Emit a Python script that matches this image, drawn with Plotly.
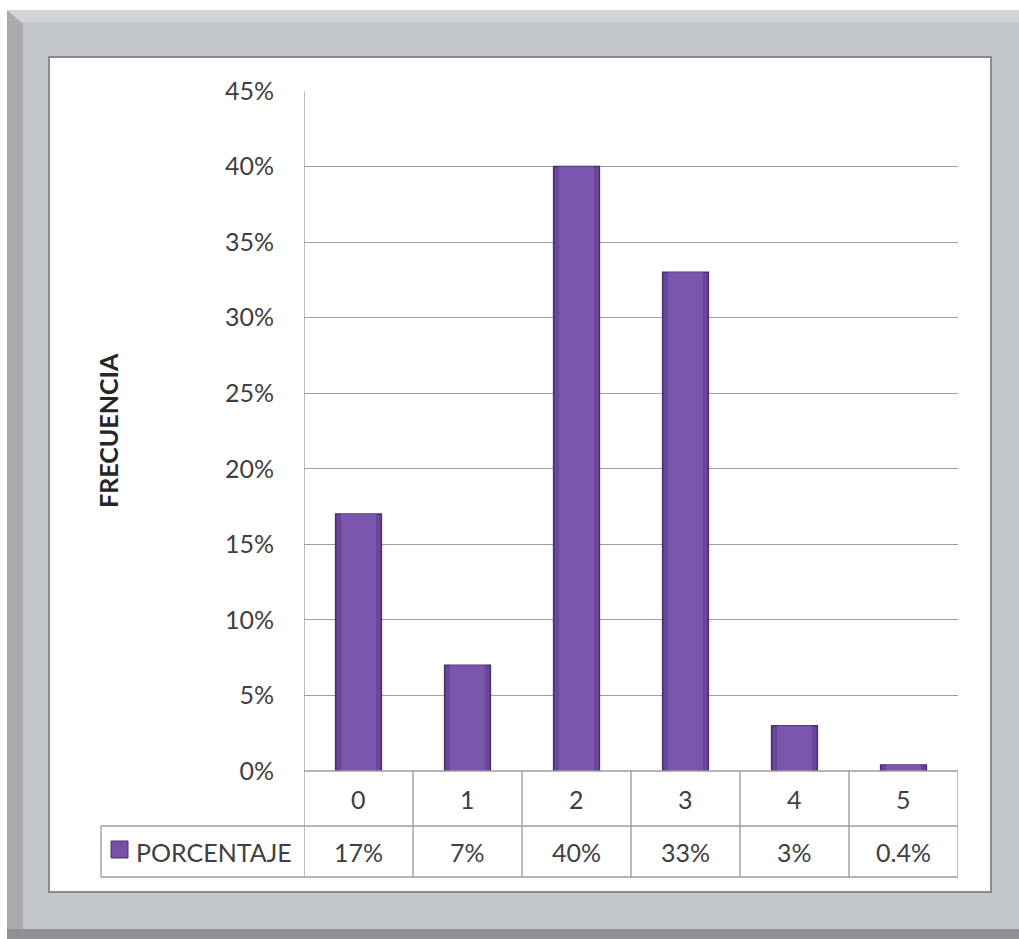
import plotly.graph_objects as go

# Data
categories = ["0", "1", "2", "3", "4", "5"]
porcentaje = [17, 7, 40, 33, 3, 0.4]
value_labels = ["17%", "7%", "40%", "33%", "3%", "0.4%"]
y_ticks = [0, 5, 10, 15, 20, 25, 30, 35, 40, 45]
y_tick_text = [f"{t}%" for t in y_ticks]
series_name = "PORCENTAJE"
axis_title = "FRECUENCIA"

W, H = 1019, 939
FONT = "Lato"
TXT = "#404040"
GRID = "#9e9e9e"
BAR_FILL = "#7651a6"
BAR_EDGE = "#4a2e72"


def px(x):
    return x / W


def py(y):
    return 1 - y / H


x_idx = list(range(len(categories)))

fig = go.Figure()
fig.add_trace(go.Bar(
    x=x_idx, y=porcentaje, width=0.42, name=series_name,
    marker=dict(color="#6a4698", line=dict(color=BAR_EDGE, width=1.5)),
    showlegend=False, hoverinfo="skip",
))
# lighter core for a bevelled look
fig.add_trace(go.Bar(
    x=x_idx, y=porcentaje, width=0.32,
    marker=dict(color="#7b56ad", line=dict(width=0)),
    showlegend=False, hoverinfo="skip",
))

shapes = []
# outer frame
shapes.append(dict(type="rect", xref="paper", yref="paper", x0=px(7), x1=1, y0=0, y1=py(10),
                   fillcolor="#c4c7ca", line=dict(width=0), layer="below"))
shapes.append(dict(type="rect", xref="paper", yref="paper", x0=px(7), x1=1, y0=py(22), y1=py(10),
                   fillcolor="#d2d5d7", line=dict(width=0), layer="below"))
shapes.append(dict(type="path", xref="paper", yref="paper",
                   path=f"M {px(7)},{py(10)} L {px(23)},{py(24)} L {px(23)},{py(929)} L {px(7)},{py(939)} Z",
                   fillcolor="#a8aaad", line=dict(width=0), layer="below"))
shapes.append(dict(type="rect", xref="paper", yref="paper", x0=px(7), x1=1, y0=0, y1=py(929),
                   fillcolor="#8f9194", line=dict(width=0), layer="below"))
# white chart panel
shapes.append(dict(type="rect", xref="paper", yref="paper", x0=px(49), x1=px(991), y0=py(892), y1=py(57),
                   fillcolor="white", line=dict(color="#8a8a8a", width=2), layer="below"))

# data table grid
tl = dict(color=GRID, width=1.4)
n = len(categories)
shapes.append(dict(type="line", xref="x", yref="paper", x0=-0.5, x1=n - 0.5, y0=py(771), y1=py(771), line=tl))
shapes.append(dict(type="line", xref="paper", yref="paper", x0=px(101), x1=px(958), y0=py(826), y1=py(826), line=tl))
shapes.append(dict(type="line", xref="paper", yref="paper", x0=px(101), x1=px(958), y0=py(877), y1=py(877), line=tl))
shapes.append(dict(type="line", xref="paper", yref="paper", x0=px(101), x1=px(101), y0=py(826), y1=py(877), line=tl))
shapes.append(dict(type="line", xref="x", yref="paper", x0=-0.5, x1=-0.5, y0=py(91), y1=py(877), line=tl))
for i in range(n):
    shapes.append(dict(type="line", xref="x", yref="paper", x0=i + 0.5, x1=i + 0.5,
                       y0=py(771), y1=py(877), line=tl))
# legend key
shapes.append(dict(type="rect", xref="paper", yref="paper", x0=px(111), x1=px(128), y0=py(858), y1=py(841),
                   fillcolor=BAR_FILL, line=dict(color=BAR_EDGE, width=1)))

annotations = []
for i, c in enumerate(categories):
    annotations.append(dict(x=i, y=py(799), xref="x", yref="paper", text=c, showarrow=False,
                            font=dict(family=FONT, size=25, color=TXT), xanchor="center", yanchor="middle"))
    annotations.append(dict(x=i, y=py(852), xref="x", yref="paper", text=value_labels[i], showarrow=False,
                            font=dict(family=FONT, size=25, color=TXT), xanchor="center", yanchor="middle"))
annotations.append(dict(x=px(134), y=py(852), xref="paper", yref="paper", text=series_name, showarrow=False,
                        font=dict(family=FONT, size=25, color=TXT), xanchor="left", yanchor="middle"))
annotations.append(dict(x=px(108), y=py(431), xref="paper", yref="paper", text=f"<b>{axis_title}</b>",
                        showarrow=False, textangle=-90,
                        font=dict(family=FONT, size=25, color="#262626"), xanchor="center", yanchor="middle"))

fig.update_layout(
    width=W, height=H, autosize=False,
    margin=dict(l=0, r=0, t=0, b=0, pad=0),
    paper_bgcolor="white", plot_bgcolor="rgba(0,0,0,0)",
    barmode="overlay",
    shapes=shapes, annotations=annotations,
    xaxis=dict(domain=[px(304), px(958)], range=[-0.5, n - 0.5], showticklabels=False,
               showgrid=False, zeroline=False, showline=False, fixedrange=True),
    yaxis=dict(domain=[py(771), py(91)], range=[0, 45], tickvals=y_ticks, ticktext=y_tick_text,
               showgrid=True, gridcolor=GRID, gridwidth=1.4, zeroline=False, showline=False,
               automargin=False, ticklabelstandoff=29, tickfont=dict(family=FONT, size=25, color=TXT)),
)

fig.write_html("out.html", config={"responsive": False, "displayModeBar": False})
